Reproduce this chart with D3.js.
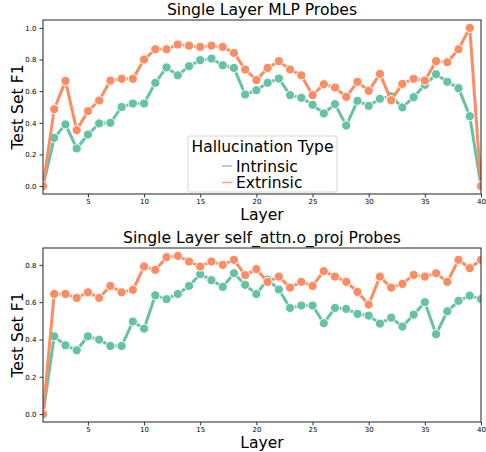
<!DOCTYPE html>
<html lang="en">
<head>
<meta charset="UTF-8">
<title>Single Layer Probes</title>
<script src="https://d3js.org/d3.v7.min.js"></script>
<style>
  body { margin: 0; background: #fff; }
  svg text { font-family: "DejaVu Sans", sans-serif; fill: #000; }
</style>
</head>
<body>
<svg width="486" height="452" id="mainsvg"></svg>
<script>
// layers 1..40
const layers = d3.range(1, 41);

const mlpIntrinsic = [0.0, 0.305, 0.39, 0.238, 0.326, 0.396, 0.40, 0.50, 0.522, 0.522,
  0.653, 0.75, 0.70, 0.758, 0.796, 0.806, 0.764, 0.747, 0.579, 0.606,
  0.653, 0.68, 0.575, 0.558, 0.514, 0.459, 0.518, 0.383, 0.539, 0.507,
  0.552, 0.568, 0.497, 0.562, 0.64, 0.707, 0.659, 0.619, 0.442, 0.0];
const mlpExtrinsic = [0.0, 0.486, 0.665, 0.354, 0.474, 0.541, 0.667, 0.678, 0.678, 0.80,
  0.865, 0.865, 0.895, 0.888, 0.88, 0.888, 0.88, 0.842, 0.737, 0.67,
  0.747, 0.79, 0.737, 0.70, 0.575, 0.644, 0.623, 0.564, 0.659, 0.602,
  0.709, 0.543, 0.646, 0.678, 0.667, 0.79, 0.783, 0.865, 1.0, 0.0];

const attnIntrinsic = [0.0, 0.417, 0.369, 0.342, 0.417, 0.399, 0.365, 0.365, 0.496, 0.458,
  0.637, 0.616, 0.644, 0.687, 0.75, 0.718, 0.682, 0.755, 0.693, 0.644,
  0.721, 0.668, 0.569, 0.582, 0.582, 0.487, 0.569, 0.564, 0.537, 0.528,
  0.485, 0.517, 0.469, 0.533, 0.60, 0.428, 0.551, 0.607, 0.635, 0.617];
const attnExtrinsic = [0.0, 0.644, 0.644, 0.623, 0.653, 0.623, 0.687, 0.653, 0.666, 0.791,
  0.773, 0.841, 0.848, 0.818, 0.791, 0.818, 0.80, 0.827, 0.745, 0.777,
  0.709, 0.737, 0.678, 0.709, 0.687, 0.766, 0.737, 0.709, 0.655, 0.587,
  0.737, 0.678, 0.698, 0.746, 0.737, 0.755, 0.709, 0.827, 0.782, 0.827];

const seriesNames = ['Intrinsic', 'Extrinsic'];
const colors = ['#66c2a5', '#fc8d62'];
const xTicks = [5, 10, 15, 20, 25, 30, 35, 40];

const svg = d3.select('#mainsvg');

function drawPanel(opts) {
  const { top, bottom, title, series, yTicks, showLegend } = opts;
  const left = 43, right = 481;
  const g = svg.append('g');

  const x = d3.scaleLinear().domain([1, 40]).range([left, right]);
  const allVals = series.flat();
  const ymax = d3.max(allVals), ymin = d3.min(allVals);
  const pad = (ymax - ymin) * 0.05;
  const y = d3.scaleLinear().domain([ymin - pad, ymax + pad]).range([bottom, top]);

  const clipId = 'clip' + top;
  svg.append('clipPath').attr('id', clipId)
    .append('rect').attr('x', left).attr('y', top)
    .attr('width', right - left).attr('height', bottom - top);

  const plot = g.append('g').attr('clip-path', `url(#${clipId})`);
  const line = d3.line().x((d, i) => x(layers[i])).y(d => y(d));

  // each series: line then its markers
  series.forEach((vals, si) => {
    plot.append('path')
      .datum(vals)
      .attr('d', line)
      .attr('fill', 'none')
      .attr('stroke', colors[si])
      .attr('stroke-width', 3)
      .attr('stroke-linejoin', 'round');
    plot.selectAll('.dot' + si)
      .data(vals)
      .enter()
      .append('circle')
      .attr('class', 'dot' + si)
      .attr('cx', (d, i) => x(layers[i]))
      .attr('cy', d => y(d))
      .attr('r', 4.6)
      .attr('fill', colors[si])
      .attr('stroke', '#fff')
      .attr('stroke-width', 1);
  });

  // axes
  const xAxis = d3.axisBottom(x).tickValues(xTicks).tickSize(3.5).tickPadding(2);
  const xg = g.append('g').attr('transform', `translate(0,${bottom})`).call(xAxis);
  const yAxis = d3.axisLeft(y).tickValues(yTicks).tickSize(3.5).tickPadding(3)
    .tickFormat(d3.format('.1f'));
  const yg = g.append('g').attr('transform', `translate(${left},0)`).call(yAxis);
  [xg, yg].forEach(a => {
    a.select('.domain').remove();
    a.selectAll('.tick line').attr('stroke', '#000').attr('stroke-width', 0.8);
    a.selectAll('.tick text').style('font-size', '7px').attr('fill', '#222');
  });

  // frame
  g.append('rect')
    .attr('x', left).attr('y', top)
    .attr('width', right - left).attr('height', bottom - top)
    .attr('fill', 'none').attr('stroke', '#222').attr('stroke-width', 1);

  g.append('text')
    .attr('x', (left + right) / 2).attr('y', top - 5)
    .attr('text-anchor', 'middle')
    .style('font-size', '15.6px')
    .text(title);
  g.append('text')
    .attr('x', (left + right) / 2).attr('y', bottom + 26)
    .attr('text-anchor', 'middle')
    .style('font-size', '15.6px')
    .text('Layer');
  g.append('text')
    .attr('transform', `translate(23,${(top + bottom) / 2}) rotate(-90)`)
    .attr('text-anchor', 'middle')
    .style('font-size', '15.6px')
    .text('Test Set F1');

  if (showLegend) {
    const lg = g.append('g').attr('transform', 'translate(188,136)');
    lg.append('rect')
      .attr('width', 149).attr('height', 56).attr('rx', 2)
      .attr('fill', 'rgba(255,255,255,0.85)')
      .attr('stroke', '#ccc').attr('stroke-width', 0.8);
    lg.append('text')
      .attr('x', 74.5).attr('y', 16)
      .attr('text-anchor', 'middle')
      .style('font-size', '15.5px')
      .text('Hallucination Type');
    seriesNames.forEach((name, i) => {
      const yy = 30 + i * 16.5;
      lg.append('line')
        .attr('x1', 34).attr('x2', 44)
        .attr('y1', yy).attr('y2', yy)
        .attr('stroke', colors[i]).attr('stroke-opacity', 0.8)
        .attr('stroke-width', 1.5);
      lg.append('text')
        .attr('x', 48).attr('y', yy + 5.5)
        .style('font-size', '15.5px')
        .text(name);
    });
  }
}

drawPanel({
  top: 20, bottom: 194,
  title: 'Single Layer MLP Probes',
  series: [mlpIntrinsic, mlpExtrinsic],
  yTicks: [0, 0.2, 0.4, 0.6, 0.8, 1.0],
  showLegend: true
});
drawPanel({
  top: 248, bottom: 422,
  title: 'Single Layer self_attn.o_proj Probes',
  series: [attnIntrinsic, attnExtrinsic],
  yTicks: [0, 0.2, 0.4, 0.6, 0.8],
  showLegend: false
});
</script>
</body>
</html>
